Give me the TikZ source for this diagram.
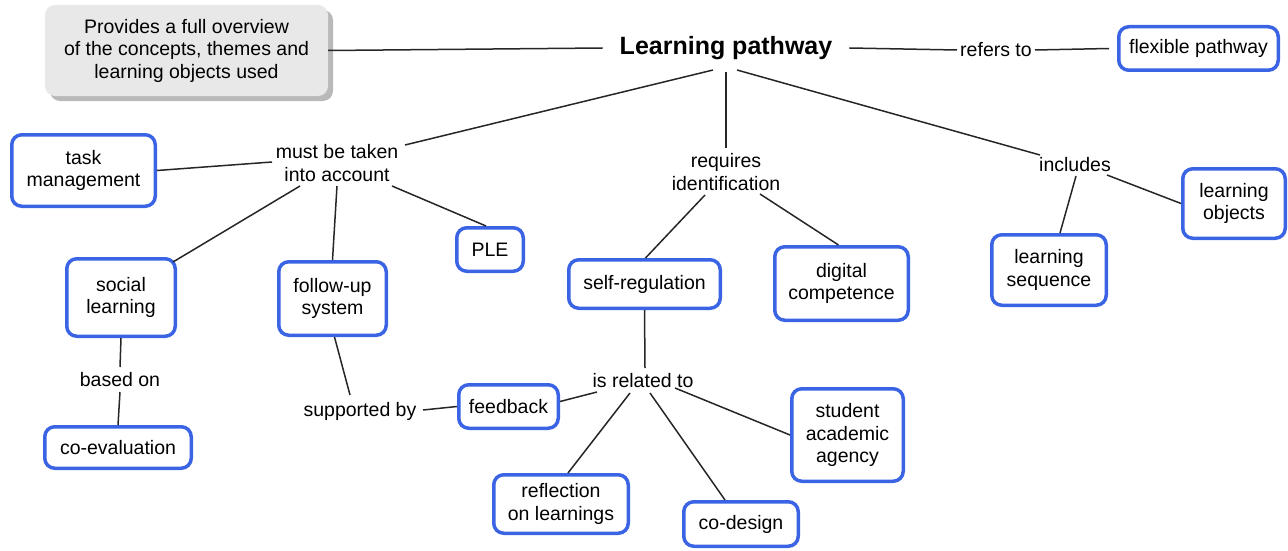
\documentclass[tikz,border=0pt]{standalone}
\usepackage{fontspec}
\setmainfont{Liberation Sans}
\usetikzlibrary{shadows}
\definecolor{cmblue}{RGB}{58,100,228}
\definecolor{cmgray}{RGB}{232,232,232}
\definecolor{cmshadow}{RGB}{185,185,185}
\begin{document}
\begin{tikzpicture}[x=1pt,y=-1pt,
  concept/.style={draw=cmblue, line width=3.5pt, rounded corners=10pt, fill=white,
    align=center, inner sep=0pt, font=\fontsize{19.5}{22.5}\selectfont},
  linkword/.style={align=center, inner sep=0pt, font=\fontsize{19.5}{22.5}\selectfont},
  conn/.style={draw=black!85, line width=1.5pt}]
\useasboundingbox (0,0) rectangle (1288,551);
% overview box
\node[fill=cmgray, rounded corners=10pt, minimum width=283pt, minimum height=91pt,
  align=center, inner sep=0pt, font=\fontsize{19.5}{22.5}\selectfont,
  drop shadow={shadow xshift=5pt, shadow yshift=-5pt, fill=cmshadow, opacity=1}]
  (gray) at (186.5,50.5) {Provides a full overview\\of the concepts, themes and\\learning objects used};
% main concept
\node[inner xsep=17pt, inner ysep=0pt, font=\fontsize{25}{28}\selectfont\bfseries] (lp) at (726,48) {Learning pathway};
% linking words
\node[linkword, inner xsep=3pt] (refers) at (996,50) {refers to};
\node[linkword] (mbt) at (337,163) {must be taken\\into account};
\node[linkword] (reqid) at (726,172) {requires\\identification};
\node[linkword] (incl) at (1075,165) {includes};
\node[linkword] (basedon) at (120,380) {based on};
\node[linkword] (supp) at (360,411) {supported by};
\node[linkword] (isrel) at (643,381) {is related to};
% concepts
\node[concept, minimum width=159.5pt, minimum height=43.5pt] (flex) at (1198.5,48.5) {flexible pathway};
\node[concept, minimum width=143.5pt, minimum height=71.5pt] (task) at (83.5,170.5) {task\\management};
\node[concept, minimum width=108.5pt, minimum height=77.5pt] (social) at (121,297.5) {social\\learning};
\node[concept, minimum width=107.5pt, minimum height=73.5pt] (follow) at (332.5,298.5) {follow-up\\system};
\node[concept, minimum width=66.5pt, minimum height=43.5pt] (ple) at (490,249.5) {PLE};
\node[concept, minimum width=151.5pt, minimum height=48.5pt] (selfreg) at (644.5,284) {self-regulation};
\node[concept, minimum width=133.5pt, minimum height=73.5pt] (digital) at (841.5,283.5) {digital\\competence};
\node[concept, minimum width=114.5pt, minimum height=70.5pt] (lseq) at (1049,270) {learning\\sequence};
\node[concept, minimum width=102.5pt, minimum height=69.5pt] (lobj) at (1234,203.5) {learning\\objects};
\node[concept, minimum width=146.5pt, minimum height=41.5pt] (coeval) at (118,447.5) {co-evaluation};
\node[concept, minimum width=99.5pt, minimum height=43.5pt] (feedback) at (508.5,406.5) {feedback};
\node[concept, minimum width=134.5pt, minimum height=58.5pt] (reflect) at (561,504) {reflection\\on learnings};
\node[concept, minimum width=114.5pt, minimum height=44.5pt] (codesign) at (741,524) {co-design};
\node[concept, minimum width=111.5pt, minimum height=92.5pt] (student) at (847.5,435) {student\\academic\\agency};
% connectors
\draw[conn] (gray.east) -- (lp.west);
\draw[conn] (lp.east) -- (refers.west);
\draw[conn] (refers.east) -- ([shift={(-8,0)}]flex.west);
\draw[conn] ([shift={(-13,22)}]lp.center) -- ([shift={(68,-18)}]mbt.center);
\draw[conn] ([shift={(0,24)}]lp.center) -- ([shift={(0,-24)}]reqid.center);
\draw[conn] ([shift={(11,22)}]lp.center) -- ([shift={(-35,-10)}]incl.center);
\draw[conn] ([shift={(-65,-1)}]mbt.center) -- (task.east);
\draw[conn] ([shift={(-37,23)}]mbt.center) -- ([shift={(52,-35.5)}]social.center);
\draw[conn] ([shift={(0,23)}]mbt.center) -- (follow.north);
\draw[conn] ([shift={(55,23)}]mbt.center) -- ([shift={(-4,0)}]ple.north);
\draw[conn] ([shift={(-21,23)}]reqid.center) -- ([shift={(1,0)}]selfreg.north);
\draw[conn] ([shift={(34,22)}]reqid.center) -- ([shift={(-3,0)}]digital.north);
\draw[conn] ([shift={(1,11)}]incl.center) -- ([shift={(11,0)}]lseq.north);
\draw[conn] ([shift={(32,10)}]incl.center) -- (lobj.west);
\draw[conn] (social.south) -- ([shift={(0,-13)}]basedon.center);
\draw[conn] ([shift={(0,12)}]basedon.center) -- (coeval.north);
\draw[conn] ([shift={(2,0)}]follow.south) -- ([shift={(-10,-16)}]supp.center);
\draw[conn] ([shift={(63,-1)}]supp.center) -- (feedback.west);
\draw[conn] (selfreg.south) -- ([shift={(2,-13)}]isrel.center);
\draw[conn] ([shift={(-46,11)}]isrel.center) -- ([shift={(0,-5)}]feedback.east);
\draw[conn] ([shift={(-13,12)}]isrel.center) -- ([shift={(7,0)}]reflect.north);
\draw[conn] ([shift={(7,12)}]isrel.center) -- ([shift={(-16,0)}]codesign.north);
\draw[conn] ([shift={(32,7)}]isrel.center) -- (student.west);
\end{tikzpicture}
\end{document}
